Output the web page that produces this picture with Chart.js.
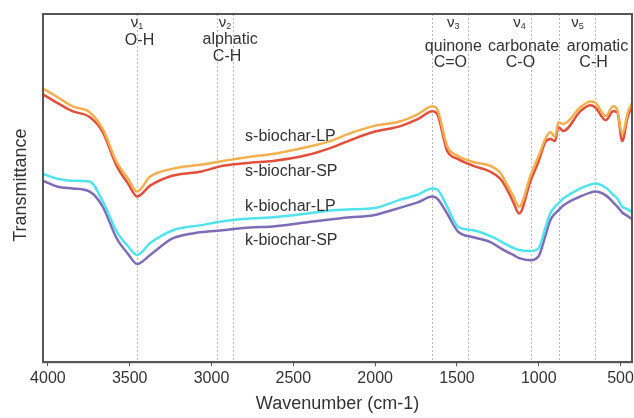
<!DOCTYPE html>
<html>
<head>
<meta charset="utf-8">
<script src="https://cdn.jsdelivr.net/npm/chart.js@4.4.0/dist/chart.umd.min.js"></script>
<style>
    html, body { margin: 0; padding: 0; background: #fff; }
    canvas { display: block; }
</style>
</head>
<body>
<canvas id="ftirChart" width="634" height="418"></canvas>
<script>
// FTIR spectra data (wavenumber in cm-1, transmittance in a.u.)
const wavenumbers = [4030, 3940, 3850, 3745, 3665, 3580, 3510, 3455, 3375, 3235,
    3070, 2930, 2765, 2625, 2415, 2275, 2150, 2010, 1845, 1740,
    1650, 1620, 1560, 1495, 1400, 1295, 1235, 1190, 1155, 1120,
    1050, 1000, 960, 930, 900, 880, 850, 745, 685, 655,
    590, 545, 520, 490, 455, 430];

const sBiocharLP = [78.6, 76.1, 73.5, 71.8, 67.0, 57.5, 52.7, 49.0, 53.3, 55.6,
    56.7, 57.8, 59.0, 59.8, 61.8, 63.5, 65.8, 67.8, 69.2, 71.2,
    73.5, 72.6, 62.1, 59.3, 57.5, 56.4, 54.4, 50.7, 47.6, 44.7,
    53.6, 59.3, 64.1, 66.1, 64.7, 68.9, 68.4, 73.2, 74.9, 74.6,
    70.7, 73.5, 72.6, 65.5, 71.8, 74.4];

const sBiocharSP = [76.9, 74.4, 72.1, 70.4, 66.1, 56.4, 51.3, 47.6, 50.7, 53.6,
    54.7, 56.4, 57.3, 57.8, 59.5, 61.5, 63.8, 66.1, 67.8, 69.8,
    72.1, 71.2, 60.7, 58.4, 56.4, 54.7, 52.7, 49.3, 45.9, 42.7,
    52.1, 57.8, 63.2, 64.1, 63.5, 67.5, 66.4, 72.1, 73.8, 73.2,
    69.5, 72.1, 71.8, 63.5, 70.7, 73.2];

const kBiocharLP = [54.1, 52.7, 52.1, 51.9, 46.2, 37.6, 33.3, 30.8, 34.2, 37.9,
    39.3, 40.5, 41.3, 41.6, 42.7, 43.6, 43.9, 44.2, 46.7, 48.1,
    49.9, 49.6, 44.7, 39.0, 37.9, 36.2, 34.8, 33.6, 32.8, 32.2,
    31.9, 32.8, 38.5, 42.7, 44.7, 45.6, 47.0, 49.9, 51.0, 51.3,
    50.1, 48.1, 47.0, 44.7, 43.9, 43.0];

const kBiocharSP = [52.1, 50.4, 49.9, 49.0, 44.7, 35.6, 31.1, 28.2, 30.8, 35.6,
    37.3, 37.9, 38.7, 39.0, 40.2, 41.0, 41.6, 42.2, 44.4, 45.9,
    47.6, 47.0, 42.7, 37.6, 35.9, 34.5, 32.8, 31.6, 30.8, 29.9,
    29.3, 30.5, 36.2, 40.7, 42.7, 43.6, 45.0, 47.6, 48.7, 49.0,
    47.9, 45.9, 44.7, 43.0, 41.9, 41.0];

const seriesNames = ['s-biochar-LP', 's-biochar-SP', 'k-biochar-LP', 'k-biochar-SP'];
const xTicks = [4000, 3500, 3000, 2500, 2000, 1500, 1000, 500];

// band marker lines (cm-1)
const bandLines = [3455, 2965, 2870, 1650, 1435, 1050, 875, 655];

// band annotations
const bandLabels = [
    { sub: '1', wn: 3455, lines: [{ text: 'O-H', wn: 3440, y: 41 }] },
    { sub: '2', wn: 2917, lines: [{ text: 'alphatic', wn: 2886, y: 40 }, { text: 'C-H', wn: 2905, y: 57 }] },
    { sub: '3', wn: 1522, lines: [{ text: 'quinone', wn: 1522, y: 47 }, { text: 'C=O', wn: 1540, y: 63 }] },
    { sub: '4', wn: 1118, lines: [{ text: 'carbonate', wn: 1093, y: 47 }, { text: 'C-O', wn: 1112, y: 63 }] },
    { sub: '5', wn: 763, lines: [{ text: 'aromatic', wn: 641, y: 47 }, { text: 'C-H', wn: 665, y: 63 }] }
];

// series name labels placed in data space
const seriesLabelPos = [
    { wn: 2795, t: 64.8 },
    { wn: 2795, t: 54.7 },
    { wn: 2795, t: 44.7 },
    { wn: 2795, t: 35.0 }
];

const FONT = 'Arial, "Liberation Sans", sans-serif';
const TEXT = '#333';

const toPoints = (vals) => vals.map((v, i) => ({ x: wavenumbers[i], y: v }));

const overlayPlugin = {
    id: 'overlay',
    beforeDatasetsDraw(chart) {
        const { ctx, chartArea, scales } = chart;
        ctx.save();
        ctx.strokeStyle = '#b8b8b8';
        ctx.lineWidth = 1;
        ctx.setLineDash([2, 2]);
        bandLines.forEach(wn => {
            const x = Math.round(scales.x.getPixelForValue(wn)) + 0.5;
            ctx.beginPath();
            ctx.moveTo(x, chartArea.top);
            ctx.lineTo(x, chartArea.bottom);
            ctx.stroke();
        });
        ctx.restore();
    },
    afterDatasetsDraw(chart) {
        const { ctx, chartArea, scales } = chart;
        ctx.save();
        ctx.fillStyle = TEXT;
        ctx.textBaseline = 'middle';

        // band labels
        bandLabels.forEach(b => {
            const x = scales.x.getPixelForValue(b.wn);
            ctx.font = '15px ' + FONT;
            const w1 = ctx.measureText('\u03bd').width;
            ctx.font = '9px ' + FONT;
            const w2 = ctx.measureText(b.sub).width;
            const start = x - (w1 + w2) / 2;
            ctx.textAlign = 'left';
            ctx.font = '15px ' + FONT;
            ctx.fillText('\u03bd', start, 23);
            ctx.font = '9px ' + FONT;
            ctx.fillText(b.sub, start + w1, 27);
            ctx.textAlign = 'center';
            ctx.font = '16px ' + FONT;
            b.lines.forEach(l => {
                ctx.fillText(l.text, scales.x.getPixelForValue(l.wn), l.y);
            });
        });

        // series names
        ctx.textAlign = 'left';
        ctx.font = '16px ' + FONT;
        seriesNames.forEach((name, i) => {
            const p = seriesLabelPos[i];
            ctx.fillText(name, scales.x.getPixelForValue(p.wn), scales.y.getPixelForValue(p.t));
        });

        // y title
        ctx.translate(21, (chartArea.top + chartArea.bottom) / 2 - 3);
        ctx.rotate(-Math.PI / 2);
        ctx.textAlign = 'center';
        ctx.font = '18px ' + FONT;
        ctx.fillText('Transmittance', 0, 0);
        ctx.restore();

        // frame
        ctx.save();
        ctx.strokeStyle = '#555';
        ctx.lineWidth = 2;
        ctx.strokeRect(chartArea.left, chartArea.top, chartArea.right - chartArea.left, chartArea.bottom - chartArea.top);
        ctx.restore();
    }
};

const initChart = () => {
    const ctx = document.getElementById('ftirChart');
    const mk = (label, data, color) => ({
        label: label,
        data: toPoints(data),
        borderColor: color,
        backgroundColor: color,
        borderWidth: 2.5,
        pointRadius: 0,
        tension: 0.35,
        cubicInterpolationMode: 'monotone',
        fill: false
    });

    new Chart(ctx, {
        type: 'line',
        data: {
            datasets: [
                mk(seriesNames[0], sBiocharLP, '#f2b04e'),
                mk(seriesNames[1], sBiocharSP, '#e0503c'),
                mk(seriesNames[2], kBiocharLP, '#52e2ec'),
                mk(seriesNames[3], kBiocharSP, '#7e6cb6')
            ]
        },
        options: {
            responsive: false,
            animation: false,
            layout: { padding: { left: 43, top: 14, right: 2, bottom: 3 } },
            plugins: {
                legend: { display: false },
                tooltip: { enabled: false }
            },
            scales: {
                x: {
                    type: 'linear',
                    reverse: true,
                    min: 430,
                    max: 4030,
                    afterBuildTicks: (scale) => {
                        scale.ticks = xTicks.map(v => ({ value: v }));
                    },
                    afterFit: (scale) => {
                        scale.paddingLeft = 0;
                        scale.paddingRight = 0;
                    },
                    grid: {
                        drawOnChartArea: false,
                        drawTicks: true,
                        tickLength: 4,
                        color: '#555'
                    },
                    border: { display: true, color: '#555', width: 2 },
                    ticks: {
                        padding: 3,
                        maxRotation: 0,
                        autoSkip: false,
                        color: TEXT,
                        font: { family: FONT, size: 16 },
                        callback: (v) => String(v)
                    },
                    title: {
                        display: true,
                        text: 'Wavenumber (cm-1)',
                        color: TEXT,
                        padding: { top: 2, bottom: 0 },
                        font: { family: FONT, size: 18 }
                    }
                },
                y: {
                    display: false,
                    min: 0,
                    max: 100
                }
            }
        },
        plugins: [overlayPlugin]
    });
}

document.addEventListener('DOMContentLoaded', initChart);
</script>
</body>
</html>
